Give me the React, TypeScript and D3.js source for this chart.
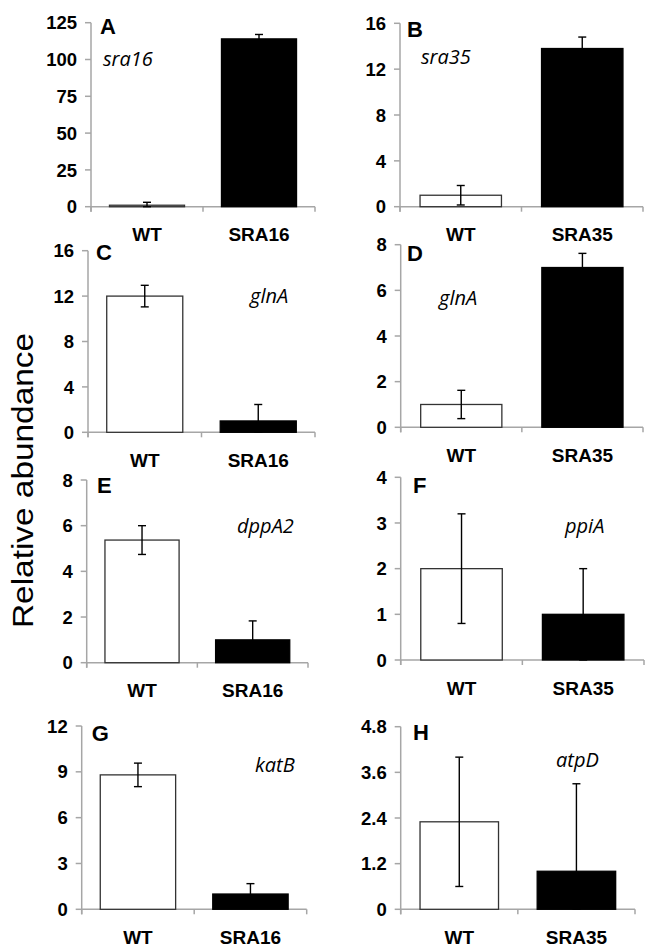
import React from "react";
import * as d3 from "d3";

// ---- data ----
const panelLetters = ["A", "B", "C", "D", "E", "F", "G", "H"];
const geneNames = ["sra16", "sra35", "glnA", "glnA", "dppA2", "ppiA", "katB", "atpD"];
const strainNames = ["SRA16", "SRA35", "SRA16", "SRA35", "SRA16", "SRA35", "SRA16", "SRA35"];
const wtLabel = "WT";
const wtValues = [1, 1, 12, 1, 5.37, 2, 8.8, 2.3];
const wtErrors = [2, 0.85, 0.95, 0.62, 0.63, 1.2, 0.77, 1.7];
const mutValues = [114, 13.8, 1, 7, 1, 1, 1, 1];
const mutErrors = [3, 1, 1.45, 0.62, 0.83, 1.0, 0.68, 2.3];
const yMaxes = [125, 16, 16, 8, 8, 4, 12, 4.8];
const ySteps = [25, 4, 4, 2, 2, 1, 3, 1.2];
const yTitle = "Relative abundance";

// ---- layout (pixels) ----
const layout = [
  { ax: 91, top: 22.7, y0: 206.7, xEnd: 315, letter: [100, 34], gene: [103, 66] },
  { ax: 400, top: 23.3, y0: 206.7, xEnd: 643, letter: [407, 36.7], gene: [421, 64] },
  { ax: 88, top: 250.7, y0: 432.3, xEnd: 315, letter: [96, 260], gene: [250, 302.7] },
  { ax: 400.7, top: 244.7, y0: 427.3, xEnd: 643, letter: [407, 260.7], gene: [439, 305] },
  { ax: 86.7, top: 480, y0: 662.7, xEnd: 308, letter: [97, 493.3], gene: [237, 532.7] },
  { ax: 400.7, top: 477.3, y0: 660, xEnd: 644, letter: [413, 493.3], gene: [565, 533.3] },
  { ax: 81.7, top: 726, y0: 909.3, xEnd: 306.7, letter: [91.7, 740.7], gene: [255, 771.7] },
  { ax: 400.7, top: 726.7, y0: 909.3, xEnd: 635, letter: [413, 740], gene: [556, 767] },
];

const AXIS = "#a6a6a6";
const SANS = "'Liberation Sans', Arial, sans-serif";

function Panel({ i }: { i: number }) {
  const L = layout[i];
  const y = d3.scaleLinear().domain([0, yMaxes[i]]).range([L.y0, L.top]);
  const cats = [wtLabel, strainNames[i]];
  const x = d3.scaleBand<string>().domain(cats).range([L.ax, L.xEnd]).paddingInner(0.33).paddingOuter(0.165);
  const ticks = d3.range(0, yMaxes[i] + ySteps[i] / 2, ySteps[i]).map((v) => +v.toFixed(2));
  const vals = [wtValues[i], mutValues[i]];
  const errs = [wtErrors[i], mutErrors[i]];
  const boundaries = [L.ax, (L.ax + L.xEnd) / 2, L.xEnd];
  return (
    <g>
      <line x1={L.ax} x2={L.ax} y1={L.top} y2={L.y0 + 5} stroke={AXIS} strokeWidth={1.5} />
      {ticks.map((t) => (
        <g key={t}>
          <line x1={L.ax - 6} x2={L.ax} y1={y(t)} y2={y(t)} stroke={AXIS} strokeWidth={1.5} />
          <text x={L.ax - 14} y={y(t)} dy="0.36em" textAnchor="end" fontFamily={SANS} fontWeight="bold" fontSize={18.5} fill="#000">
            {String(t)}
          </text>
        </g>
      ))}
      <line x1={L.ax} x2={L.xEnd} y1={L.y0} y2={L.y0} stroke={AXIS} strokeWidth={1.5} />
      {boundaries.map((b, k) => (
        <line key={k} x1={b} x2={b} y1={L.y0} y2={L.y0 + 5} stroke={AXIS} strokeWidth={1.5} />
      ))}
      {cats.map((c, k) => (
        <rect
          key={c}
          x={x(c)}
          y={y(vals[k])}
          width={x.bandwidth()}
          height={L.y0 - y(vals[k])}
          fill={k === 0 ? "#fff" : "#000"}
          stroke={k === 0 ? "#333" : "#000"}
          strokeWidth={1.3}
        />
      ))}
      {cats.map((c, k) => {
        const cx = (x(c) as number) + x.bandwidth() / 2;
        const hi = y(vals[k] + errs[k]);
        const lo = y(Math.max(0, vals[k] - errs[k]));
        return (
          <g key={"e" + c} stroke="#000" strokeWidth={1.4}>
            <line x1={cx} x2={cx} y1={hi} y2={lo} />
            <line x1={cx - 4} x2={cx + 4} y1={hi} y2={hi} />
            <line x1={cx - 4} x2={cx + 4} y1={lo} y2={lo} />
          </g>
        );
      })}
      {cats.map((c) => (
        <text
          key={"l" + c}
          x={(x(c) as number) + x.bandwidth() / 2}
          y={L.y0 + 34.5}
          textAnchor="middle"
          fontFamily={SANS}
          fontWeight="bold"
          fontSize={19}
          fill="#000"
        >
          {c}
        </text>
      ))}
      <text x={L.letter[0]} y={L.letter[1]} fontFamily={SANS} fontWeight="bold" fontSize={22} fill="#000">
        {panelLetters[i]}
      </text>
      <text x={L.gene[0]} y={L.gene[1]} fontFamily="'Open Sans', sans-serif" fontStyle="italic" fontSize={20} fill="#000">
        {geneNames[i]}
      </text>
    </g>
  );
}

export default function App() {
  return (
    <svg width={645} height={948} style={{ position: "absolute", left: 0, top: 0, background: "#fff" }}>
      <rect width={645} height={948} fill="#fff" />
      {layout.map((_, i) => (
        <Panel key={i} i={i} />
      ))}
      <text
        transform="translate(33,480.5) rotate(-90)"
        textAnchor="middle"
        fontFamily={SANS}
        fontSize={30}
        textLength={295}
        lengthAdjust="spacingAndGlyphs"
        fill="#000"
      >
        {yTitle}
      </text>
    </svg>
  );
}
